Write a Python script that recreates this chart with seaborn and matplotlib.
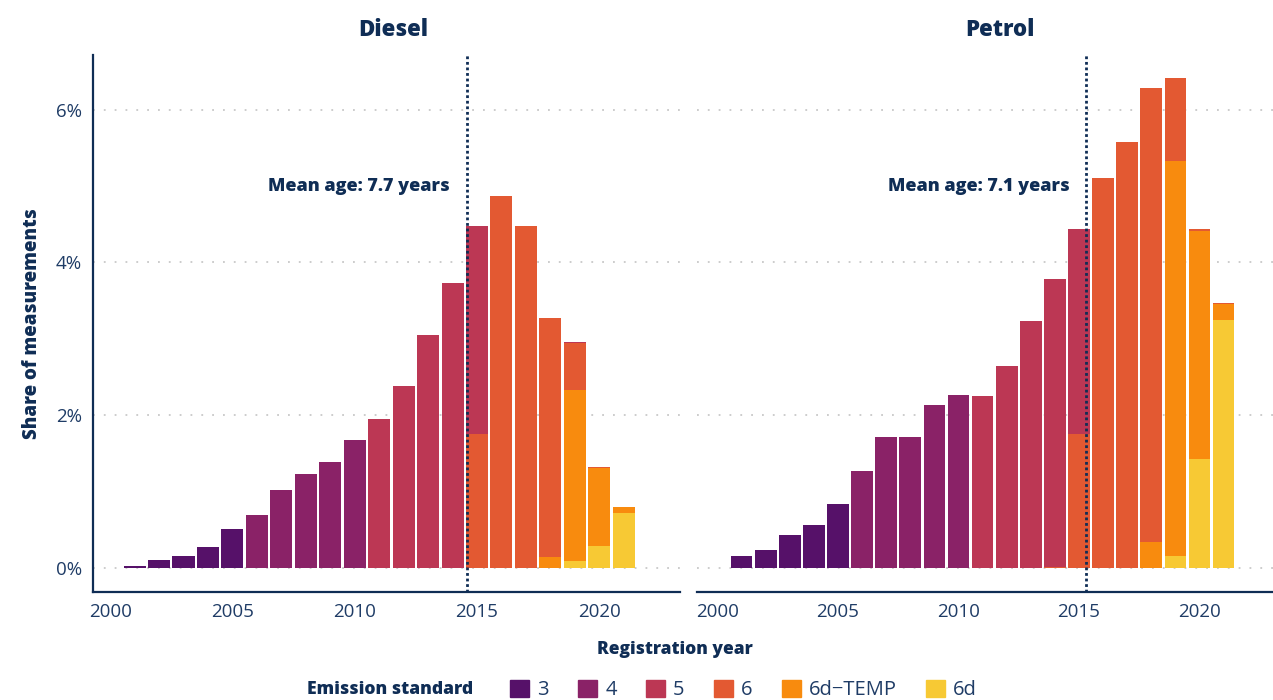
import numpy as np
import pandas as pd
import matplotlib.pyplot as plt
import matplotlib.patches as mpatches
from matplotlib.ticker import FuncFormatter
import seaborn as sns

# Share of measurements (%) by registration year and emission standard
years = list(range(2001, 2022))
standards = ["3", "4", "5", "6", "6d\u2212TEMP", "6d"]
colors = ["#561169", "#8a2267", "#bc3754", "#e35932", "#f88b0e", "#f7c934"]

diesel_3 = [0.02, 0.10, 0.15, 0.27, 0.51] + [0] * 16
diesel_4 = [0] * 5 + [0.69, 1.02, 1.23, 1.38, 1.67] + [0] * 11
diesel_5 = [0] * 10 + [1.95, 2.38, 3.05, 3.73, 2.73, 0, 0, 0, 0.02, 0, 0]
diesel_6 = [0] * 14 + [1.75, 4.87, 4.48, 3.13, 0.61, 0.01, 0]
diesel_6dt = [0] * 17 + [0.14, 2.24, 1.03, 0.08]
diesel_6d = [0] * 18 + [0.09, 0.28, 0.72]

petrol_3 = [0.15, 0.23, 0.43, 0.56, 0.84] + [0] * 16
petrol_4 = [0] * 5 + [1.27, 1.71, 1.71, 2.13, 2.26] + [0] * 11
petrol_5 = [0] * 10 + [2.25, 2.64, 3.23, 3.77, 2.69] + [0] * 6
petrol_6 = [0] * 13 + [0.01, 1.75, 5.11, 5.58, 5.96, 1.09, 0.03, 0.02]
petrol_6dt = [0] * 17 + [0.33, 5.18, 2.99, 0.20]
petrol_6d = [0] * 18 + [0.15, 1.42, 3.25]

fuels = ["Diesel", "Petrol"]
mean_age = [7.7, 7.1]
mean_year = [2014.6, 2015.3]

series = {
    "Diesel": [diesel_3, diesel_4, diesel_5, diesel_6, diesel_6dt, diesel_6d],
    "Petrol": [petrol_3, petrol_4, petrol_5, petrol_6, petrol_6dt, petrol_6d],
}

rows = []
for fuel in fuels:
    for std, vals in zip(standards, series[fuel]):
        for y, v in zip(years, vals):
            rows.append({"fuel": fuel, "year": y, "standard": std, "share": v})
df = pd.DataFrame(rows)

NAVY = "#0f2d55"
TICK = "#1f3c66"
HEAVY = "heavy"

sns.set_theme(style="white")
plt.rcParams["font.family"] = ["Open Sans", "DejaVu Sans"]

fig = plt.figure(figsize=(12.73, 7), dpi=100)
ax1 = fig.add_axes([93 / 1273, 1 - 592 / 700, 587 / 1273, 537 / 700])
ax2 = fig.add_axes([697 / 1273, 1 - 592 / 700, 576 / 1273, 537 / 700])
palette = dict(zip(standards, colors))

for ax, fuel, age, my, tx in zip([ax1, ax2], fuels, mean_age, mean_year, [0.511, 0.526]):
    sub = df[df["fuel"] == fuel]
    sns.histplot(data=sub, x="year", weights="share", hue="standard",
                 hue_order=standards, palette=palette, multiple="stack",
                 discrete=True, shrink=0.9, linewidth=0, alpha=1,
                 legend=False, ax=ax, zorder=2)
    ax.set_ylim(-0.32, 6.72)
    for g in [0, 2, 4, 6]:
        ax.axhline(g, color="#c8c8c8", ls=(0, (1, 5)), lw=1.3, zorder=0)
    ax.axvline(my, color=NAVY, ls=(0, (1, 1)), lw=2, zorder=3)
    ax.text(my - 0.7, 4.99, f"Mean age: {age} years", ha="right", va="center",
            fontsize=13, fontweight=HEAVY, color=NAVY)
    ax.set_title(fuel, fontsize=16, fontweight=HEAVY, color=NAVY, pad=14, x=tx)
    ax.set_xticks([2000, 2005, 2010, 2015, 2020])
    ax.tick_params(axis="both", length=0, labelsize=13.5, labelcolor=TICK, pad=8)
    ax.set_xlabel("")
    ax.set_ylabel("")
    ax.grid(False)
    for s in ["top", "right"]:
        ax.spines[s].set_visible(False)
    ax.spines["bottom"].set_color(NAVY)
    ax.spines["bottom"].set_linewidth(1.6)

ax1.set_xlim(1999.3, 2023.3)
ax2.set_xlim(1999.15, 2023.05)
ax1.set_yticks([0, 2, 4, 6])
ax1.yaxis.set_major_formatter(FuncFormatter(lambda v, p: f"{v:.0f}%"))
ax1.spines["left"].set_color(NAVY)
ax1.spines["left"].set_linewidth(1.6)
ax2.spines["left"].set_visible(False)
ax2.set_yticks([0, 2, 4, 6])
ax2.tick_params(axis="y", labelleft=False)

ax1.set_ylabel("Share of measurements", fontsize=13.5, fontweight=HEAVY,
               color=NAVY, labelpad=10)
fig.text(675 / 1273, 1 - 650 / 700, "Registration year", ha="center", va="center",
         fontsize=12.5, fontweight=HEAVY, color=NAVY)

fig.text(473 / 1273, 1 - 690 / 700, "Emission standard", ha="right", va="center",
         fontsize=12.6, fontweight=HEAVY, color=NAVY)
handles = [mpatches.Patch(color=c, label=s) for s, c in zip(standards, colors)]
leg = fig.legend(handles=handles, loc="center left", ncol=6,
                 bbox_to_anchor=(502 / 1273, 1 - 690 / 700), frameon=False,
                 handlelength=0.95, handleheight=0.95,
                 handletextpad=0.4, columnspacing=1.45, borderaxespad=0,
                 prop={"size": 14.5})
for t in leg.get_texts():
    t.set_color(TICK)

fig.savefig("out.png", dpi=100)
